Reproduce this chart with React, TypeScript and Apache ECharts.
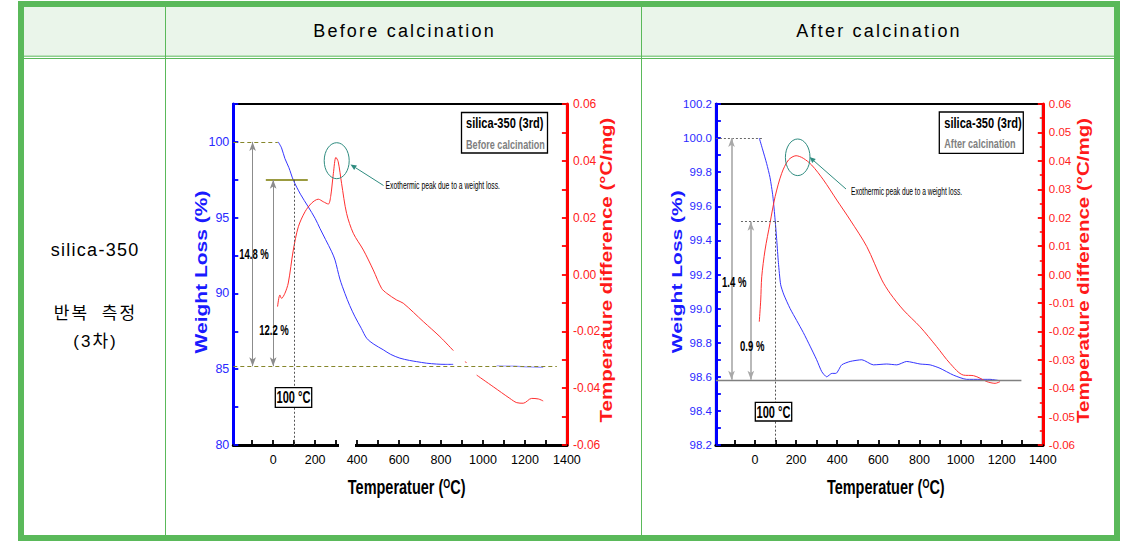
import React, { useEffect, useRef } from 'react';
import * as echarts from 'echarts';

// ---------------- data ----------------
const headerTitles = ['Before calcination', 'After calcination'];
const rowLabels = ['silica-350', '반복 측정', '(3차)'];

const xTickValues = [-100, 0, 100, 200, 300, 400, 500, 600, 700, 800, 900, 1000, 1100, 1200, 1300];
const xLabelValues = [0, 200, 400, 600, 800, 1000, 1200, 1400];

// Before calcination – TG (weight loss, %)
const beforeWeightTemp = [24, 40, 56, 75, 96, 130, 167, 200, 223, 250, 279, 295, 318, 342, 365, 390, 420, 446, 480, 525, 560, 604, 650, 684, 730, 779, 820, 858];
const beforeWeight = [100.0, 99.6, 98.9, 98.3, 97.48, 96.55, 95.72, 94.95, 94.29, 93.55, 92.75, 92.2, 90.95, 90.0, 89.2, 88.46, 87.7, 87.04, 86.65, 86.28, 85.98, 85.73, 85.58, 85.5, 85.4, 85.34, 85.32, 85.32];
const beforeWeightTailTemp = [1065, 1150, 1220, 1287];
const beforeWeightTail = [85.23, 85.2, 85.15, 85.12];

// Before calcination – DTA (°C/mg)
const beforeDtaTemp = [21, 32, 40, 56, 72, 96, 120, 152, 183, 215, 239, 263, 274, 287, 299, 310, 326, 350, 382, 430, 477, 517, 541, 589, 620, 716, 795, 859, 890, 914, 922, 945, 970, 1049, 1128, 1161, 1192, 1232, 1264, 1287];
const beforeDta = [-0.0113, -0.0072, -0.0084, -0.0066, -0.003, 0.0086, 0.0168, 0.0221, 0.0251, 0.0265, 0.0256, 0.0248, 0.0274, 0.0356, 0.0412, 0.0397, 0.0321, 0.0215, 0.0145, 0.0086, 0.0016, -0.0049, -0.0066, -0.009, -0.0101, -0.0166, -0.0219, -0.0268, null, -0.0307, -0.031, null, -0.0354, -0.0395, -0.0436, -0.0451, -0.0453, -0.0436, -0.0438, -0.0445];

// After calcination – TG (weight loss, %)
const afterWeightTemp = [21, 38, 57, 73, 87, 98, 106, 114, 125, 141, 171, 203, 235, 268, 300, 325, 349, 374, 394, 422, 463, 520, 576, 641, 690, 738, 803, 852, 900, 965, 1030, 1095, 1143, 1192];
const afterWeight = [100.0, 99.93, 99.85, 99.77, 99.66, 99.52, 99.4, 99.27, 99.14, 99.08, 99.0, 98.93, 98.86, 98.78, 98.7, 98.63, 98.6, 98.62, 98.62, 98.67, 98.69, 98.7, 98.67, 98.675, 98.67, 98.69, 98.675, 98.67, 98.65, 98.61, 98.585, 98.585, 98.585, 98.577];

// After calcination – DTA (°C/mg)
const afterDtaTemp = [21, 28, 33, 49, 73, 98, 130, 163, 200, 235, 276, 333, 398, 463, 544, 617, 657, 722, 803, 884, 949, 1014, 1063, 1095, 1128, 1168, 1192];
const afterDta = [-0.0166, -0.009, -0.0008, 0.0086, 0.018, 0.0274, 0.0356, 0.0403, 0.0418, 0.0409, 0.0385, 0.0333, 0.0262, 0.0192, 0.0098, -0.0019, -0.0066, -0.0125, -0.0184, -0.0254, -0.0313, -0.0354, -0.0356, -0.0365, -0.0377, -0.0383, -0.0377];

// ---------------- styling helpers ----------------
const GREEN = '#5ab95a';
const AXIS_FONT = "'Liberation Sans Narrow', 'Arial Narrow', 'Liberation Sans', Arial, sans-serif";
const TXT_FONT = "'Liberation Sans', Arial, sans-serif";
const TEAL = '#2f8c80';

const pairs = (xs: number[], ys: (number | null)[]) => xs.map((x, i) => [x, ys[i]]);
const fixed = (v: number, d: number) => {
  const s = v.toFixed(d);
  return /^-0\.0+$/.test(s) ? s.slice(1) : s;
};

const txt = (x: number, y: number, text: string, size: number, o: any = {}) => ({
  type: 'text',
  x,
  y,
  scaleX: o.sx ?? 0.68,
  scaleY: o.sy ?? 1,
  rotation: o.rot ?? 0,
  z: 100,
  silent: true,
  style: {
    text,
    fill: o.color ?? '#000',
    fontSize: size,
    fontWeight: o.bold ? 'bold' : 'normal',
    fontFamily: TXT_FONT,
    align: o.align ?? 'center',
    verticalAlign: 'middle',
  },
});

const rect = (x: number, y: number, w: number, h: number, stroke: string, lw: number, fill = 'none', z = 100) => ({
  type: 'rect',
  z,
  silent: true,
  shape: { x, y, width: w, height: h },
  style: { fill, stroke, lineWidth: lw },
});

const hline = (x1: number, x2: number, y: number, color: string, lw: number, z = 50) => ({
  type: 'line',
  z,
  silent: true,
  shape: { x1, y1: y, x2, y2: y },
  style: { stroke: color, lineWidth: lw },
});
const vline = (x: number, y1: number, y2: number, color: string, lw: number, z = 50) => ({
  type: 'line',
  z,
  silent: true,
  shape: { x1: x, y1, x2: x, y2 },
  style: { stroke: color, lineWidth: lw },
});

const arrowTo = (x1: number, y1: number, x2: number, y2: number, color: string) => {
  const dx = x2 - x1;
  const dy = y2 - y1;
  const L = Math.hypot(dx, dy);
  const ux = dx / L;
  const uy = dy / L;
  const hl = 6;
  const hw = 2.6;
  const bx = x2 - ux * hl;
  const by = y2 - uy * hl;
  return [
    { type: 'line', z: 100, silent: true, shape: { x1, y1, x2: bx, y2: by }, style: { stroke: color, lineWidth: 1 } },
    {
      type: 'polygon',
      z: 100,
      silent: true,
      shape: { points: [[x2, y2], [bx - uy * hw, by + ux * hw], [bx + uy * hw, by - ux * hw]] },
      style: { fill: color },
    },
  ];
};

const xName = (cx: number, cy: number) => ({
  type: 'text',
  x: cx,
  y: cy,
  scaleX: 0.69,
  z: 100,
  silent: true,
  style: {
    text: '{a|Temperatuer (}{b|O}{a|C)}',
    align: 'center',
    verticalAlign: 'middle',
    rich: {
      a: { fontSize: 21, fontWeight: 'bold', fontFamily: TXT_FONT, fill: '#000' },
      b: { fontSize: 13, fontWeight: 'bold', fontFamily: TXT_FONT, fill: '#000', verticalAlign: 'top' },
    },
  },
});

const xAxisFor = (gridIndex: number) => ({
  type: 'value',
  gridIndex,
  min: -190,
  max: 1400,
  axisLine: { show: true, onZero: false, lineStyle: { color: '#000', width: 3 } },
  axisTick: { show: true, inside: true, length: 5, customValues: xTickValues, lineStyle: { color: '#000', width: 1.8 } },
  axisLabel: {
    show: true,
    customValues: xLabelValues,
    color: '#000',
    fontSize: 12.5,
    fontFamily: AXIS_FONT,
    margin: 8,
    formatter: (v: number) => String(Math.round(v)),
  },
  splitLine: { show: false },
});

const yAxisBase = (gridIndex: number, position: string, color: string, labelColor: string, size = 12) => ({
  type: 'value',
  gridIndex,
  position,
  axisLine: { show: true, onZero: false, lineStyle: { color, width: 3 } },
  axisTick: { show: true, inside: true, length: 5, lineStyle: { color, width: 1.8 } },
  splitLine: { show: false },
  axisLabel: { color: labelColor, fontSize: size, fontFamily: AXIS_FONT, margin: position === 'left' ? 4 : 6 },
});

const ML_BASE = { silent: true, animation: false, symbol: ['none', 'none'], label: { show: false }, emphasis: { disabled: true } };

const dashedOlive = { color: '#86862a', type: [4, 3], width: 1.2 };
const grayArrow = (color: string, width: number) => ({ color, width, type: 'solid' });

const yLL = yAxisBase(0, 'left', '#0000ff', '#2a2aff', 12.5);
const yLR = yAxisBase(0, 'right', '#ff0000', '#ff2020', 12);
const yRL = yAxisBase(1, 'left', '#0000ff', '#2a2aff', 11.5);
const yRR = yAxisBase(1, 'right', '#ff0000', '#ff2020', 11.5);

const option: any = {
  animation: false,
  backgroundColor: 'transparent',
  grid: [
    { left: 233.3, top: 104, width: 333.6, height: 341, show: true, borderColor: '#000', borderWidth: 2, containLabel: false, outerBoundsMode: 'none' },
    { left: 715.9, top: 104, width: 326.9, height: 341, show: true, borderColor: '#000', borderWidth: 2, containLabel: false, outerBoundsMode: 'none' },
  ],
  xAxis: [xAxisFor(0), xAxisFor(1)],
  yAxis: [
    {
      ...yLL,
      min: 80,
      max: 102.5,
      interval: 2.5,
      axisLabel: { ...yLL.axisLabel, formatter: (v: number) => (Math.abs(v % 5) < 1e-9 ? String(Math.round(v)) : '') },
    },
    {
      ...yLR,
      min: -0.06,
      max: 0.06,
      interval: 0.01,
      axisLabel: {
        ...yLR.axisLabel,
        formatter: (v: number) => {
          const k = Math.round(v * 100);
          return k % 2 === 0 ? fixed(k / 100, 2) : '';
        },
      },
    },
    {
      ...yRL,
      min: 98.2,
      max: 100.2,
      interval: 0.1,
      axisLabel: {
        ...yRL.axisLabel,
        formatter: (v: number) => {
          const k = Math.round(v * 10);
          return k % 2 === 0 ? (k / 10).toFixed(1) : '';
        },
      },
    },
    {
      ...yRR,
      min: -0.06,
      max: 0.06,
      interval: 0.01,
      minorTick: { show: true, splitNumber: 2, length: 3, lineStyle: { color: '#ff0000', width: 1.5 } },
      axisLabel: { ...yRR.axisLabel, formatter: (v: number) => fixed(v, 2) },
    },
  ],
  series: [
    {
      type: 'line',
      xAxisIndex: 0,
      yAxisIndex: 0,
      data: pairs(beforeWeightTemp, beforeWeight),
      symbol: 'none',
      smooth: 0.3,
      lineStyle: { color: '#3535ff', width: 1 },
      z: 3,
      markLine: {
        ...ML_BASE,
        data: [
          [{ coord: [-190, 100], lineStyle: dashedOlive }, { coord: [22, 100] }],
          [{ coord: [-35, 97.5], lineStyle: { color: '#7a7a00', type: 'solid', width: 1.5 } }, { coord: [165, 97.5] }],
          [{ coord: [-190, 85.2], lineStyle: dashedOlive }, { coord: [1352, 85.2] }],
          [
            { coord: [-98, 100], symbol: 'arrow', symbolSize: [5, 9], lineStyle: grayArrow('#8c8c8c', 1) },
            { coord: [-98, 85.2], symbol: 'arrow', symbolSize: [5, 9] },
          ],
          [
            { coord: [0, 97.5], symbol: 'arrow', symbolSize: [5, 9], lineStyle: grayArrow('#8c8c8c', 1) },
            { coord: [0, 85.2], symbol: 'arrow', symbolSize: [5, 9] },
          ],
          [{ coord: [100, 97.5], lineStyle: { color: '#555', type: [2, 2], width: 1 } }, { coord: [100, 80] }],
        ],
      },
    },
    {
      type: 'line',
      xAxisIndex: 0,
      yAxisIndex: 0,
      data: pairs(beforeWeightTailTemp, beforeWeightTail),
      symbol: 'none',
      smooth: 0.3,
      lineStyle: { color: '#9a9aff', width: 1.2 },
      z: 3,
    },
    {
      type: 'line',
      xAxisIndex: 0,
      yAxisIndex: 1,
      data: pairs(beforeDtaTemp, beforeDta),
      symbol: 'none',
      smooth: 0.3,
      connectNulls: false,
      lineStyle: { color: '#ff3030', width: 1 },
      z: 3,
    },
    {
      type: 'line',
      xAxisIndex: 1,
      yAxisIndex: 2,
      data: pairs(afterWeightTemp, afterWeight),
      symbol: 'none',
      smooth: 0.2,
      lineStyle: { color: '#3535ff', width: 1 },
      z: 3,
      markLine: {
        ...ML_BASE,
        data: [
          [{ coord: [-190, 100], lineStyle: { color: '#666', type: [2, 2], width: 1 } }, { coord: [40, 100] }],
          [{ coord: [-68, 99.51], lineStyle: { color: '#666', type: [2, 2], width: 1 } }, { coord: [117, 99.51] }],
          [{ coord: [-190, 98.582], lineStyle: { color: '#808080', type: 'solid', width: 1.3 } }, { coord: [1296, 98.582] }],
          [
            { coord: [-114, 100], symbol: 'arrow', symbolSize: [5, 9], lineStyle: grayArrow('#a8a8a8', 1.6) },
            { coord: [-114, 98.582], symbol: 'arrow', symbolSize: [5, 9] },
          ],
          [
            { coord: [-20, 99.51], symbol: 'arrow', symbolSize: [5, 9], lineStyle: grayArrow('#a8a8a8', 1.6) },
            { coord: [-20, 98.582], symbol: 'arrow', symbolSize: [5, 9] },
          ],
          [{ coord: [100, 99.51], lineStyle: { color: '#555', type: [2, 2], width: 1 } }, { coord: [100, 98.2] }],
        ],
      },
    },
    {
      type: 'line',
      xAxisIndex: 1,
      yAxisIndex: 3,
      data: pairs(afterDtaTemp, afterDta),
      symbol: 'none',
      smooth: 0.3,
      lineStyle: { color: '#ff3030', width: 1 },
      z: 3,
    },
  ],
  graphic: [
    // table
    rect(24, 7, 1090, 49, 'none', 0, '#eaf5ea', 0),
    hline(24, 1114, 56.2, GREEN, 1),
    hline(24, 1114, 58.5, GREEN, 1),
    vline(165.5, 7, 535, GREEN, 1),
    vline(641.5, 7, 535, GREEN, 1),
    rect(21, 4, 1096, 534, GREEN, 6, 'none', 60),
    // gap in left x axis
    rect(339, 441, 16, 8, 'none', 0, '#ffffff', 120),

    // ---- left chart annotations ----
    rect(461.5, 112.5, 86, 40.5, '#000', 1.3, '#fff', 90),
    txt(466, 124, 'silica-350 (3rd)', 14, { bold: true, sx: 0.79, align: 'left' }),
    txt(466, 144.5, 'Before calcination', 13, { bold: true, sx: 0.7, align: 'left', color: '#7f7f7f' }),
    { type: 'ellipse', z: 100, silent: true, shape: { cx: 336.7, cy: 160.7, rx: 12.5, ry: 18 }, style: { fill: 'none', stroke: TEAL, lineWidth: 1 } },
    ...arrowTo(383.5, 185.5, 350.5, 164.5, TEAL),
    txt(385.5, 185.5, 'Exothermic peak due to a weight loss.', 10, { sx: 0.68, align: 'left' }),
    txt(254, 254.5, '14.8 %', 14, { bold: true }),
    txt(274, 330, '12.2 %', 14, { bold: true }),
    rect(275.3, 387.7, 36.4, 19.6, '#000', 1.3, '#fff', 90),
    txt(293.5, 397.5, '100 °C', 17, { bold: true, sx: 0.65 }),
    txt(201.7, 272, 'Weight Loss (%)', 21, { bold: true, sx: 1, sy: 0.78, rot: Math.PI / 2, color: '#1a1aff' }),
    txt(606.7, 270, 'Temperature difference (°C/mg)', 20.5, { bold: true, sx: 1, sy: 0.8, rot: Math.PI / 2, color: '#ff1a1a' }),
    xName(406.7, 487),

    // ---- right chart annotations ----
    rect(939.3, 112, 84, 41.3, '#000', 1.3, '#fff', 90),
    txt(944.3, 123.5, 'silica-350 (3rd)', 14, { bold: true, sx: 0.79, align: 'left' }),
    txt(944.3, 143.5, 'After calcination', 13, { bold: true, sx: 0.7, align: 'left', color: '#7f7f7f' }),
    { type: 'ellipse', z: 100, silent: true, shape: { cx: 797.7, cy: 157.3, rx: 12.3, ry: 18.3 }, style: { fill: 'none', stroke: TEAL, lineWidth: 1 } },
    ...arrowTo(846, 189, 809.5, 157, TEAL),
    txt(851, 191.7, 'Exothermic peak due to a weight loss.', 10, { sx: 0.66, align: 'left' }),
    txt(734.2, 282.3, '1.4 %', 14, { bold: true }),
    txt(752.2, 346, '0.9 %', 14, { bold: true }),
    rect(755.3, 402.3, 36.4, 18.7, '#000', 1.3, '#fff', 90),
    txt(773.5, 411.7, '100 °C', 17, { bold: true, sx: 0.65 }),
    txt(676.2, 271.7, 'Weight Loss (%)', 21, { bold: true, sx: 1, sy: 0.74, rot: Math.PI / 2, color: '#1a1aff' }),
    txt(1083, 270.5, 'Temperature difference (°C/mg)', 20.5, { bold: true, sx: 1, sy: 0.78, rot: Math.PI / 2, color: '#ff1a1a' }),
    xName(885.8, 487),
  ],
};

const htmlText = (text: string, left: number, width: number, cy: number, size: number, spacing: number, extra: any = {}) => (
  <div
    key={text}
    style={{
      position: 'absolute',
      left,
      width,
      top: cy - 12,
      height: 24,
      lineHeight: '24px',
      textAlign: 'center',
      fontSize: size,
      letterSpacing: spacing,
      paddingLeft: spacing,
      boxSizing: 'border-box',
      fontFamily: "'Liberation Sans', 'Noto Sans CJK KR', Arial, sans-serif",
      color: '#000',
      whiteSpace: 'nowrap',
      ...extra,
    }}
  >
    {text}
  </div>
);

export default function App() {
  const ref = useRef<HTMLDivElement>(null);
  useEffect(() => {
    const chart = echarts.init(ref.current as HTMLDivElement, undefined, { renderer: 'svg' });
    chart.setOption(option);
    return () => chart.dispose();
  }, []);
  return (
    <div style={{ position: 'absolute', left: 0, top: 0, width: 1126, height: 546, background: '#fff' }}>
      <div ref={ref} style={{ position: 'absolute', left: 0, top: 0, width: 1126, height: 546 }} />
      {htmlText(headerTitles[0], 166, 475, 31, 18, 2.2)}
      {htmlText(headerTitles[1], 642, 472, 31, 18, 2.2)}
      {htmlText(rowLabels[0], 24, 141, 250, 18, 1.3)}
      {htmlText(rowLabels[1], 24, 141, 314, 17, 2, { wordSpacing: 6 })}
      {htmlText(rowLabels[2], 24, 141, 342, 17, 2)}
    </div>
  );
}
